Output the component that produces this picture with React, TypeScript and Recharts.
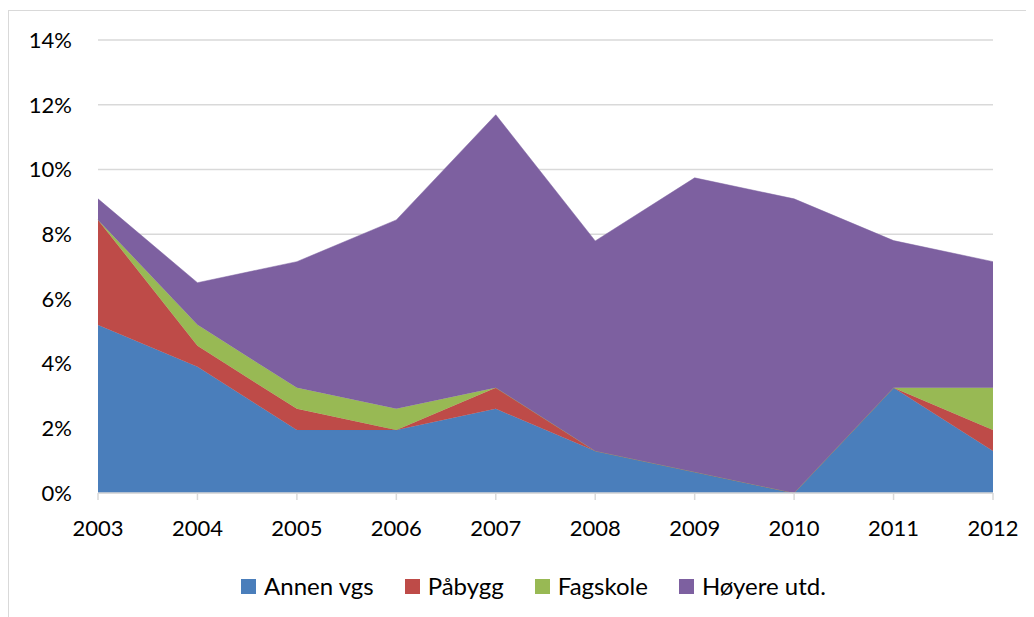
import React from "react";
import { AreaChart, Area, XAxis, YAxis, CartesianGrid, Legend } from "recharts";

const years = ["2003", "2004", "2005", "2006", "2007", "2008", "2009", "2010", "2011", "2012"];
const annenVgs = [5.19, 3.9, 1.95, 1.95, 2.6, 1.3, 0.65, 0, 3.25, 1.3];
const paabygg = [3.25, 0.65, 0.65, 0, 0.65, 0, 0, 0, 0, 0.65];
const fagskole = [0, 0.65, 0.65, 0.65, 0, 0, 0, 0, 0, 1.3];
const hoyereUtd = [0.65, 1.3, 3.9, 5.84, 8.44, 6.49, 9.09, 9.09, 4.55, 3.9];
const yTicks = [0, 2, 4, 6, 8, 10, 12, 14];

const seriesNames = ["Annen vgs", "Påbygg", "Fagskole", "Høyere utd."];
const seriesKeys = ["annen", "paabygg", "fagskole", "hoyere"];
const seriesColors = ["#4A7EBB", "#BE4B48", "#98B954", "#7D60A0"];

const data = years.map((y, i) => ({
  year: y,
  annen: annenVgs[i],
  paabygg: paabygg[i],
  fagskole: fagskole[i],
  hoyere: hoyereUtd[i],
}));

const FONT = "Lato, 'Open Sans', sans-serif";

const LegendContent = () => (
  <div
    style={{
      display: "flex",
      justifyContent: "center",
      alignItems: "center",
      fontFamily: FONT,
      fontSize: 24,
      color: "#000",
      paddingLeft: 19,
      boxSizing: "border-box",
      width: "100%",
    }}
  >
    {seriesNames.map((name, i) => (
      <div key={name} style={{ display: "flex", alignItems: "center", marginLeft: i === 0 ? 0 : 31 }}>
        <span
          style={{
            display: "inline-block",
            width: 15,
            height: 15,
            background: seriesColors[i],
            marginRight: 8,
          }}
        />
        <span style={{ lineHeight: "30px" }}>{name}</span>
      </div>
    ))}
  </div>
);

export default function App() {
  return (
    <div
      style={{
        position: "relative",
        top: 2,
        width: 1040,
        height: 620,
        borderTop: "1px solid #d9d9d9",
        borderLeft: "1px solid #d9d9d9",
        background: "#fff",
      }}
    >
      <AreaChart
        width={1030}
        height={600}
        data={data}
        margin={{ top: 29, right: 46, bottom: 88, left: 0 }}
      >
        <CartesianGrid vertical={false} stroke="#d9d9d9" strokeWidth={1.5} />
        <XAxis
          dataKey="year"
          height={30}
          axisLine={{ stroke: "#d9d9d9", strokeWidth: 1.5 }}
          tickLine={{ stroke: "#d9d9d9", strokeWidth: 1.5 }}
          tickSize={7}
          tickMargin={20}
          interval={0}
          tick={{ fill: "#000", fontSize: 22, fontFamily: FONT }}
        />
        <YAxis
          width={89}
          domain={[0, 14]}
          ticks={yTicks}
          axisLine={false}
          tickLine={false}
          tickSize={0}
          tickMargin={26}
          tickFormatter={(v) => `${v}%`}
          tick={{ fill: "#000", fontSize: 22, fontFamily: FONT }}
        />
        {seriesKeys.map((k, i) => (
          <Area
            key={k}
            type="linear"
            dataKey={k}
            name={seriesNames[i]}
            stackId="1"
            stroke={seriesColors[i]}
            strokeWidth={0.5}
            fill={seriesColors[i]}
            fillOpacity={1}
            isAnimationActive={false}
            dot={false}
            activeDot={false}
          />
        ))}
        <Legend
          verticalAlign="middle"
          align="center"
          layout="horizontal"
          content={<LegendContent />}
          wrapperStyle={{ top: 560, left: 0, width: 1030 }}
        />
      </AreaChart>
    </div>
  );
}
